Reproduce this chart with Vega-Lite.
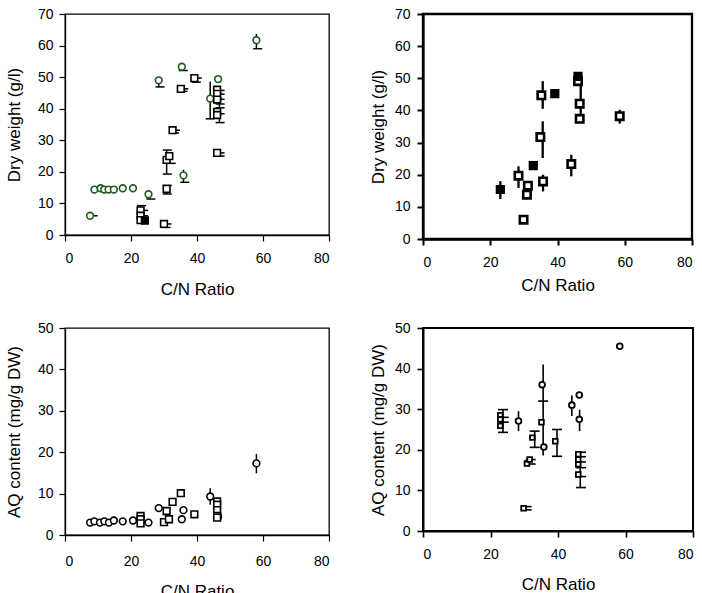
{
  "$schema": "https://vega.github.io/schema/vega-lite/v6.json",
  "padding": {"left": 4, "top": 5, "right": 0, "bottom": 0},
  "background": "white",
  "bounds": "flush",
  "columns": 2,
  "spacing": {"row": 89, "column": 94},
  "config": {
    "font": "Liberation Sans",
    "axis": {"labelFont": "Liberation Sans", "labelFontSize": 14, "titleFont": "Liberation Sans", "titleFontSize": 17, "titleFontWeight": "normal", "grid": false, "tickColor": "black", "domainColor": "black", "labelColor": "black", "titleColor": "black", "tickSize": 6}
  },
  "datasets": {
    "pts": [
      {"p":1,"x":7.6,"y":6.1,"s":"c","f":"n"},{"p":1,"x":8.9,"y":14.4,"s":"c","f":"n"},{"p":1,"x":10.8,"y":14.8,"s":"c","f":"n"},{"p":1,"x":11.9,"y":14.4,"s":"c","f":"n"},{"p":1,"x":13.2,"y":14.4,"s":"c","f":"n"},{"p":1,"x":14.8,"y":14.4,"s":"c","f":"n"},{"p":1,"x":17.5,"y":14.8,"s":"c","f":"n"},{"p":1,"x":20.6,"y":14.8,"s":"c","f":"n"},{"p":1,"x":25.3,"y":12.9,"s":"c","f":"n"},{"p":1,"x":28.4,"y":49.0,"s":"c","f":"n"},{"p":1,"x":35.4,"y":53.3,"s":"c","f":"n"},{"p":1,"x":35.9,"y":18.9,"s":"c","f":"n"},{"p":1,"x":44.0,"y":43.2,"s":"c","f":"n"},{"p":1,"x":46.4,"y":49.4,"s":"c","f":"n"},{"p":1,"x":46.3,"y":42.9,"s":"c","f":"n"},{"p":1,"x":58.0,"y":61.7,"s":"c","f":"n"},
      {"p":1,"x":22.9,"y":7.8,"s":"s","f":"n"},{"p":1,"x":22.9,"y":6.1,"s":"s","f":"n"},{"p":1,"x":22.9,"y":4.7,"s":"s","f":"n"},{"p":1,"x":24.2,"y":4.6,"s":"s","f":"y"},{"p":1,"x":30.0,"y":3.5,"s":"s","f":"n"},{"p":1,"x":30.8,"y":14.6,"s":"s","f":"n"},{"p":1,"x":30.8,"y":23.8,"s":"s","f":"n"},{"p":1,"x":31.6,"y":25.0,"s":"s","f":"n"},{"p":1,"x":32.6,"y":33.2,"s":"s","f":"n"},{"p":1,"x":35.1,"y":46.3,"s":"s","f":"n"},{"p":1,"x":39.2,"y":49.7,"s":"s","f":"n"},{"p":1,"x":46.1,"y":46.0,"s":"s","f":"n"},{"p":1,"x":46.1,"y":44.7,"s":"s","f":"n"},{"p":1,"x":46.1,"y":42.9,"s":"s","f":"n"},{"p":1,"x":46.1,"y":39.0,"s":"s","f":"n"},{"p":1,"x":46.1,"y":38.0,"s":"s","f":"n"},{"p":1,"x":46.1,"y":26.0,"s":"s","f":"n"},
      {"p":2,"x":28.4,"y":19.7,"s":"s","f":"n"},{"p":2,"x":29.9,"y":6.0,"s":"s","f":"n"},{"p":2,"x":31.2,"y":16.6,"s":"s","f":"n"},{"p":2,"x":30.9,"y":13.8,"s":"s","f":"n"},{"p":2,"x":35.2,"y":44.7,"s":"s","f":"n"},{"p":2,"x":34.9,"y":31.7,"s":"s","f":"n"},{"p":2,"x":35.7,"y":17.9,"s":"s","f":"n"},{"p":2,"x":44.1,"y":23.3,"s":"s","f":"n"},{"p":2,"x":46.1,"y":49.1,"s":"s","f":"n"},{"p":2,"x":46.6,"y":42.1,"s":"s","f":"n"},{"p":2,"x":46.6,"y":37.4,"s":"s","f":"n"},{"p":2,"x":58.5,"y":38.2,"s":"s","f":"n"},{"p":2,"x":23.0,"y":15.4,"s":"s","f":"y"},{"p":2,"x":32.8,"y":22.8,"s":"s","f":"y"},{"p":2,"x":39.2,"y":45.2,"s":"s","f":"y"},{"p":2,"x":46.1,"y":50.6,"s":"s","f":"y"},
      {"p":3,"x":7.6,"y":3.0,"s":"c","f":"n"},{"p":3,"x":8.9,"y":3.3,"s":"c","f":"n"},{"p":3,"x":10.6,"y":3.0,"s":"c","f":"n"},{"p":3,"x":11.9,"y":3.3,"s":"c","f":"n"},{"p":3,"x":13.3,"y":3.0,"s":"c","f":"n"},{"p":3,"x":14.8,"y":3.5,"s":"c","f":"n"},{"p":3,"x":17.5,"y":3.3,"s":"c","f":"n"},{"p":3,"x":20.6,"y":3.5,"s":"c","f":"n"},{"p":3,"x":25.3,"y":3.0,"s":"c","f":"n"},{"p":3,"x":28.4,"y":6.5,"s":"c","f":"n"},{"p":3,"x":35.4,"y":3.8,"s":"c","f":"n"},{"p":3,"x":35.9,"y":6.0,"s":"c","f":"n"},{"p":3,"x":44.0,"y":9.3,"s":"c","f":"n"},{"p":3,"x":46.4,"y":4.4,"s":"c","f":"n"},{"p":3,"x":58.0,"y":17.3,"s":"c","f":"n"},
      {"p":3,"x":22.9,"y":4.6,"s":"s","f":"n"},{"p":3,"x":22.9,"y":3.8,"s":"s","f":"n"},{"p":3,"x":22.9,"y":2.8,"s":"s","f":"n"},{"p":3,"x":30.0,"y":3.1,"s":"s","f":"n"},{"p":3,"x":30.8,"y":5.8,"s":"s","f":"n"},{"p":3,"x":31.5,"y":3.8,"s":"s","f":"n"},{"p":3,"x":32.6,"y":8.0,"s":"s","f":"n"},{"p":3,"x":35.1,"y":10.1,"s":"s","f":"n"},{"p":3,"x":39.2,"y":5.0,"s":"s","f":"n"},{"p":3,"x":46.1,"y":8.1,"s":"s","f":"n"},{"p":3,"x":46.1,"y":7.3,"s":"s","f":"n"},{"p":3,"x":46.1,"y":6.0,"s":"s","f":"n"},{"p":3,"x":46.1,"y":4.6,"s":"s","f":"n"},{"p":3,"x":46.1,"y":4.2,"s":"s","f":"n"},
      {"p":4,"x":28.3,"y":27.1,"s":"c","f":"n"},{"p":4,"x":35.3,"y":36.0,"s":"c","f":"n"},{"p":4,"x":35.8,"y":20.7,"s":"c","f":"n"},{"p":4,"x":44.1,"y":31.0,"s":"c","f":"n"},{"p":4,"x":46.3,"y":33.5,"s":"c","f":"n"},{"p":4,"x":46.3,"y":27.5,"s":"c","f":"n"},{"p":4,"x":58.3,"y":45.5,"s":"c","f":"n"},
      {"p":4,"x":22.9,"y":28.5,"s":"s","f":"n"},{"p":4,"x":22.9,"y":27.5,"s":"s","f":"n"},{"p":4,"x":22.9,"y":25.9,"s":"s","f":"n"},{"p":4,"x":29.8,"y":5.6,"s":"s","f":"n"},{"p":4,"x":30.8,"y":16.6,"s":"s","f":"n"},{"p":4,"x":31.6,"y":17.6,"s":"s","f":"n"},{"p":4,"x":32.4,"y":23.0,"s":"s","f":"n"},{"p":4,"x":35.1,"y":26.8,"s":"s","f":"n"},{"p":4,"x":39.2,"y":22.1,"s":"s","f":"n"},{"p":4,"x":46.0,"y":18.9,"s":"s","f":"n"},{"p":4,"x":46.0,"y":17.6,"s":"s","f":"n"},{"p":4,"x":46.0,"y":16.4,"s":"s","f":"n"},{"p":4,"x":46.0,"y":13.9,"s":"s","f":"n"}
    ],
    "err": [
      {"p":1,"x":22.9,"lo":4.4,"hi":9.3},{"p":1,"x":30.8,"lo":19.4,"hi":26.9},{"p":1,"x":35.9,"lo":16.7,"hi":20.7},{"p":1,"x":44.0,"lo":36.8,"hi":48.6},{"p":1,"x":46.8,"lo":35.6,"hi":46.5},{"p":1,"x":58.0,"lo":59.0,"hi":63.7},{"p":1,"x":28.4,"lo":46.9,"hi":49.0},{"p":1,"x":25.3,"lo":11.4,"hi":12.9},{"p":1,"x":30.8,"lo":13.0,"hi":15.7},
      {"p":2,"x":23.0,"lo":12.4,"hi":18.0},{"p":2,"x":28.4,"lo":15.9,"hi":22.6},{"p":2,"x":35.6,"lo":40.5,"hi":49.1},{"p":2,"x":35.6,"lo":25.2,"hi":36.6},{"p":2,"x":35.7,"lo":14.8,"hi":20.0},{"p":2,"x":44.1,"lo":19.5,"hi":26.2},{"p":2,"x":46.9,"lo":37.4,"hi":50.5},{"p":2,"x":58.5,"lo":35.9,"hi":40.2},{"p":2,"x":39.2,"lo":44.3,"hi":45.8},
      {"p":3,"x":44.0,"lo":7.3,"hi":11.3},{"p":3,"x":58.0,"lo":14.9,"hi":19.6},
      {"p":4,"x":23.7,"lo":24.3,"hi":29.9},{"p":4,"x":28.3,"lo":24.6,"hi":29.5},{"p":4,"x":35.6,"lo":18.6,"hi":41.0},{"p":4,"x":33.1,"lo":20.6,"hi":24.6},{"p":4,"x":39.7,"lo":18.4,"hi":25.0},{"p":4,"x":44.1,"lo":28.3,"hi":33.4},{"p":4,"x":46.4,"lo":24.6,"hi":29.9},{"p":4,"x":46.6,"lo":10.7,"hi":19.3}
    ],
    "cap": [
      {"p":1,"x":23.2,"y":9.3},{"p":1,"x":26.0,"y":11.4},{"p":1,"x":28.8,"y":46.9},{"p":1,"x":30.6,"y":2.4},{"p":1,"x":31.0,"y":15.7},{"p":1,"x":31.0,"y":13.0},{"p":1,"x":31.0,"y":26.9},{"p":1,"x":31.0,"y":19.3},{"p":1,"x":32.2,"y":22.7},{"p":1,"x":33.2,"y":32.3},{"p":1,"x":35.8,"y":52.1},{"p":1,"x":36.3,"y":16.7},{"p":1,"x":35.8,"y":45.5},{"p":1,"x":39.8,"y":48.4},{"p":1,"x":44.0,"y":36.8},{"p":1,"x":47.0,"y":45.8},{"p":1,"x":47.0,"y":44.6},{"p":1,"x":47.0,"y":43.0},{"p":1,"x":47.0,"y":41.5},{"p":1,"x":47.0,"y":40.3},{"p":1,"x":47.0,"y":38.4},{"p":1,"x":47.0,"y":35.6},{"p":1,"x":47.0,"y":25.0},{"p":1,"x":58.4,"y":59.0},{"p":1,"x":8.5,"y":6.1},{"p":1,"x":36.0,"y":46.3},{"p":1,"x":40.1,"y":49.7},{"p":1,"x":30.9,"y":3.5},{"p":1,"x":33.5,"y":33.2},{"p":1,"x":47.0,"y":26.0},{"p":1,"x":23.8,"y":7.8},{"p":1,"x":23.8,"y":6.1},
      {"p":4,"x":23.7,"y":29.9},{"p":4,"x":23.7,"y":24.3},{"p":4,"x":23.9,"y":28.0},{"p":4,"x":23.9,"y":26.8},{"p":4,"x":35.6,"y":32.0},{"p":4,"x":33.1,"y":24.6},{"p":4,"x":33.1,"y":20.6},{"p":4,"x":39.7,"y":25.0},{"p":4,"x":39.7,"y":18.4},{"p":4,"x":46.8,"y":19.4},{"p":4,"x":46.8,"y":18.3},{"p":4,"x":46.8,"y":17.0},{"p":4,"x":46.8,"y":15.6},{"p":4,"x":46.8,"y":13.4},{"p":4,"x":46.8,"y":10.7},{"p":4,"x":30.7,"y":6.0},{"p":4,"x":30.7,"y":5.2},{"p":4,"x":31.9,"y":17.6},{"p":4,"x":31.9,"y":16.5}
    ]
  },
  "concat": [
    {
      "width": 264, "height": 221,
      "view": {"stroke": "black", "strokeWidth": 1.3},
      "encoding": {"x": {"field": "x", "type": "quantitative", "title": "C/N Ratio", "scale": {"domain": [0, 80], "nice": false}, "axis": {"values": [0, 20, 40, 60, 80], "labelPadding": 10, "titlePadding": 16, "domainWidth": 1.3, "tickWidth": 1.2}}},
      "layer": [
        {"data": {"name": "err"}, "transform": [{"filter": "datum.p == 1"}], "mark": {"type": "rule", "color": "black", "strokeWidth": 1.5},
         "encoding": {"y": {"field": "lo", "type": "quantitative", "title": "Dry weight (g/l)", "scale": {"domain": [0, 70], "nice": false}, "axis": {"values": [0,10,20,30,40,50,60,70], "labelPadding": 6, "titlePadding": 14, "domainWidth": 1.3, "tickWidth": 1.2}}, "y2": {"field": "hi"}}},
        {"data": {"name": "cap"}, "transform": [{"filter": "datum.p == 1"}], "mark": {"type": "tick", "orient": "horizontal", "color": "black", "size": 9, "thickness": 1.5, "opacity": 1},
         "encoding": {"y": {"field": "y", "type": "quantitative", "title": "Dry weight (g/l)", "scale": {"domain": [0, 70], "nice": false}, "axis": {"values": [0,10,20,30,40,50,60,70], "labelPadding": 6, "titlePadding": 14, "domainWidth": 1.3, "tickWidth": 1.2}}}},
        {"data": {"name": "pts"}, "transform": [{"filter": "datum.p == 1"}], "mark": {"type": "point", "filled": true, "opacity": 1, "strokeWidth": 1.6, "size": 45},
         "encoding": {"y": {"field": "y", "type": "quantitative", "title": "Dry weight (g/l)", "scale": {"domain": [0, 70], "nice": false}, "axis": {"values": [0,10,20,30,40,50,60,70], "labelPadding": 6, "titlePadding": 14, "domainWidth": 1.3, "tickWidth": 1.2}},
           "shape": {"field": "s", "type": "nominal", "scale": {"domain": ["c", "s"], "range": ["circle", "square"]}, "legend": null},
           "stroke": {"field": "s", "type": "nominal", "scale": {"domain": ["c", "s"], "range": ["#1f5c1f", "black"]}, "legend": null},
           "fill": {"field": "f", "type": "nominal", "scale": {"domain": ["n", "y"], "range": ["white", "black"]}, "legend": null}}}
      ]
    },
    {
      "width": 269, "height": 225,
      "view": {"stroke": "black", "strokeWidth": 2.3},
      "encoding": {"x": {"field": "x", "type": "quantitative", "title": "C/N Ratio", "scale": {"domain": [0, 80], "nice": false}, "axis": {"values": [0, 20, 40, 60, 80], "labelPadding": 10, "titlePadding": 8, "domainWidth": 2.3, "tickWidth": 2}}},
      "layer": [
        {"data": {"name": "err"}, "transform": [{"filter": "datum.p == 2"}], "mark": {"type": "rule", "color": "black", "strokeWidth": 2.3},
         "encoding": {"y": {"field": "lo", "type": "quantitative", "title": "Dry weight (g/l)", "scale": {"domain": [0, 70], "nice": false}, "axis": {"values": [0,10,20,30,40,50,60,70], "labelPadding": 7, "titlePadding": 7, "domainWidth": 2.3, "tickWidth": 2}}, "y2": {"field": "hi"}}},
        {"data": {"name": "pts"}, "transform": [{"filter": "datum.p == 2"}], "mark": {"type": "point", "shape": "square", "filled": true, "opacity": 1, "strokeWidth": 2.6, "stroke": "black"},
         "encoding": {"y": {"field": "y", "type": "quantitative", "title": "Dry weight (g/l)", "scale": {"domain": [0, 70], "nice": false}, "axis": {"values": [0,10,20,30,40,50,60,70], "labelPadding": 7, "titlePadding": 7, "domainWidth": 2.3, "tickWidth": 2}},
           "fill": {"field": "f", "type": "nominal", "scale": {"domain": ["n", "y"], "range": ["white", "black"]}, "legend": null},
           "size": {"field": "f", "type": "nominal", "scale": {"domain": ["n", "y"], "range": [55, 22]}, "legend": null}}}
      ]
    },
    {
      "width": 264, "height": 207,
      "view": {"stroke": "black", "strokeWidth": 1.3},
      "encoding": {"x": {"field": "x", "type": "quantitative", "title": "C/N Ratio", "scale": {"domain": [0, 80], "nice": false}, "axis": {"values": [0, 20, 40, 60, 80], "labelPadding": 13, "titlePadding": 15, "domainWidth": 1.3, "tickWidth": 1.2}}},
      "layer": [
        {"data": {"name": "err"}, "transform": [{"filter": "datum.p == 3"}], "mark": {"type": "rule", "color": "black", "strokeWidth": 1.5},
         "encoding": {"y": {"field": "lo", "type": "quantitative", "title": "AQ content (mg/g DW)", "scale": {"domain": [0, 50], "nice": false}, "axis": {"values": [0,10,20,30,40,50], "labelPadding": 6, "titlePadding": 14, "domainWidth": 1.3, "tickWidth": 1.2}}, "y2": {"field": "hi"}}},
        {"data": {"name": "pts"}, "transform": [{"filter": "datum.p == 3"}], "mark": {"type": "point", "filled": true, "opacity": 1, "strokeWidth": 1.6, "stroke": "black", "fill": "white", "size": 45},
         "encoding": {"y": {"field": "y", "type": "quantitative", "title": "AQ content (mg/g DW)", "scale": {"domain": [0, 50], "nice": false}, "axis": {"values": [0,10,20,30,40,50], "labelPadding": 6, "titlePadding": 14, "domainWidth": 1.3, "tickWidth": 1.2}},
           "shape": {"field": "s", "type": "nominal", "scale": {"domain": ["c", "s"], "range": ["circle", "square"]}, "legend": null}}}
      ]
    },
    {
      "width": 270, "height": 203,
      "view": {"stroke": "black", "strokeWidth": 2},
      "encoding": {"x": {"field": "x", "type": "quantitative", "title": "C/N Ratio", "scale": {"domain": [0, 80], "nice": false}, "axis": {"values": [0, 20, 40, 60, 80], "labelPadding": 10, "titlePadding": 15, "domainWidth": 2, "tickWidth": 1.6}}},
      "layer": [
        {"data": {"name": "err"}, "transform": [{"filter": "datum.p == 4"}], "mark": {"type": "rule", "color": "black", "strokeWidth": 1.6},
         "encoding": {"y": {"field": "lo", "type": "quantitative", "title": "AQ content (mg/g DW)", "scale": {"domain": [0, 50], "nice": false}, "axis": {"values": [0,10,20,30,40,50], "labelPadding": 7, "titlePadding": 7, "domainWidth": 2, "tickWidth": 1.6}}, "y2": {"field": "hi"}}},
        {"data": {"name": "cap"}, "transform": [{"filter": "datum.p == 4"}], "mark": {"type": "tick", "orient": "horizontal", "color": "black", "size": 10, "thickness": 1.6, "opacity": 1},
         "encoding": {"y": {"field": "y", "type": "quantitative", "title": "AQ content (mg/g DW)", "scale": {"domain": [0, 50], "nice": false}, "axis": {"values": [0,10,20,30,40,50], "labelPadding": 7, "titlePadding": 7, "domainWidth": 2, "tickWidth": 1.6}}}},
        {"data": {"name": "pts"}, "transform": [{"filter": "datum.p == 4"}], "mark": {"type": "point", "filled": true, "opacity": 1, "strokeWidth": 1.8, "stroke": "black", "fill": "white"},
         "encoding": {"y": {"field": "y", "type": "quantitative", "title": "AQ content (mg/g DW)", "scale": {"domain": [0, 50], "nice": false}, "axis": {"values": [0,10,20,30,40,50], "labelPadding": 7, "titlePadding": 7, "domainWidth": 2, "tickWidth": 1.6}},
           "shape": {"field": "s", "type": "nominal", "scale": {"domain": ["c", "s"], "range": ["circle", "square"]}, "legend": null},
           "size": {"field": "s", "type": "nominal", "scale": {"domain": ["c", "s"], "range": [55, 30]}, "legend": null}}}
      ]
    }
  ]
}
